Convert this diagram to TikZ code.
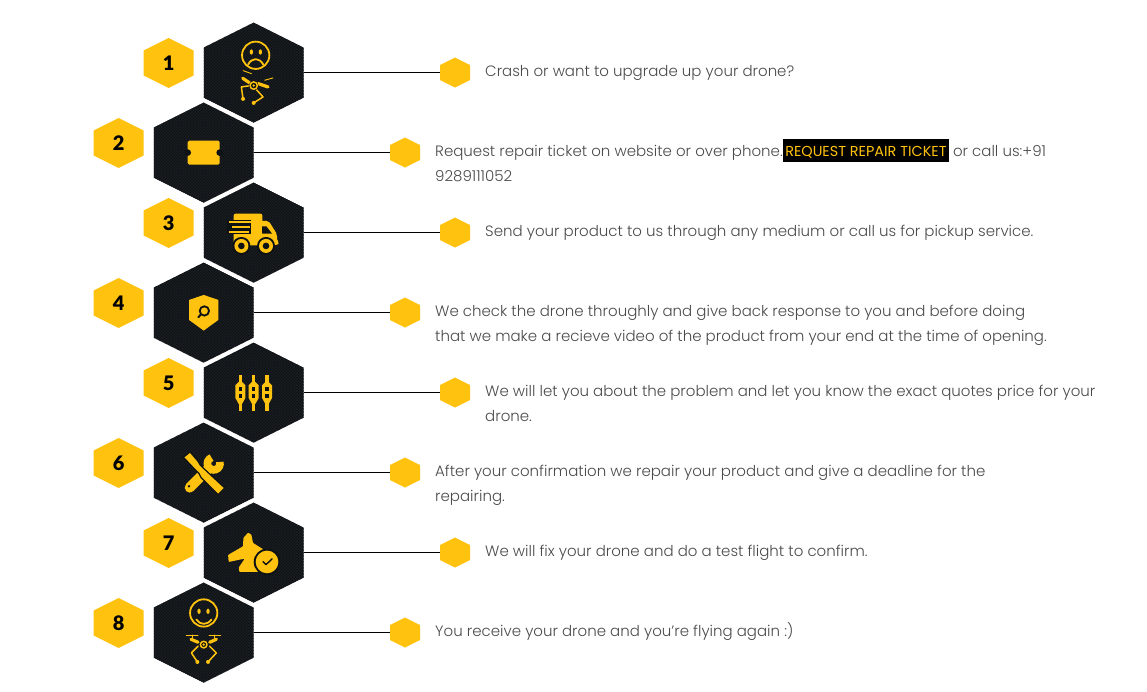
\documentclass[tikz,border=0pt]{standalone}
\usepackage{fontspec}
\setmainfont{Poppins Light}
\newfontfamily\numfont{Lato Black}
\newfontfamily\ticketfont{Poppins}
\usepackage{xcolor}
\usepackage{tikz}
\usetikzlibrary{
    patterns
}
\definecolor{hexgold}{HTML}{FFC30F}
\definecolor{hexdark}{HTML}{0F1215}
\definecolor{hexmesh}{HTML}{1B1F23}
\definecolor{bodygrey}{HTML}{4A4A4A}
\newcommand{\hexpath}[1]{(0,-#1) -- (#1,-#1/2) -- (#1,#1/2) -- (0,#1) -- (-#1,#1/2) -- (-#1,-#1/2) -- cycle}
\newcommand{\ticketbox}[1]{{\setlength{\fboxsep}{0pt}\colorbox{black}{\rule[-6pt]{0pt}{23pt}\,\ticketfont\fontsize{14.4}{14.4}\selectfont\textcolor{hexgold}{#1}\,}}}
\tikzset{
    bighex/.style={%
        minimum width=99.6pt, minimum height=100pt, inner sep=0pt,
        path picture={\fill[shift={(path picture bounding box.center)}, preaction={fill=hexdark},
            pattern=crosshatch, pattern color=hexmesh] \hexpath{50};}
    },
    numhex/.style={%
        minimum width=50pt, minimum height=50pt, inner sep=0pt,
        path picture={\fill[shift={(path picture bounding box.center)}, hexgold] \hexpath{25};}
    },
    numlabel/.style={text=black, inner sep=0pt, font=\numfont\fontsize{20}{20}\selectfont},
    tiphex/.style={%
        minimum width=30pt, minimum height=30pt, inner sep=0pt,
        path picture={\fill[shift={(path picture bounding box.center)}, hexgold] \hexpath{15};}
    },
    bodytext/.style={%
        anchor=north west, inner sep=0pt, align=left, text=bodygrey,
        font=\fontsize{15}{25}\selectfont,
        execute at begin node={\rule{0pt}{14pt}}
    },
    link/.style={draw=black, line width=0.9pt},
    iconunits/.style={x=.333pt, y=-.333pt},
    icongold/.style={fill=hexgold, draw=none},
    iconhole/.style={fill=hexdark, draw=none},
    iconface/.style={draw=hexgold, line width=1.8pt, line cap=round, line join=round},
    iconline/.style={draw=hexgold, line width=1.5pt, line cap=round, line join=round},
    iconthin/.style={draw=hexgold, line width=.9pt, line cap=round},
    iconthick/.style={draw=hexgold, line width=3.2pt, line cap=round, line join=round}
}
\begin{document}
\begin{tikzpicture}[x=1pt, y=-1pt]
    \useasboundingbox (0,0) rectangle (1147,691);

    \node[numhex, label={[numlabel]center:1}] (num1) at (168.7, 63) {};
    \node[numhex, label={[numlabel]center:2}] (num2) at (118.7,143) {};
    \node[numhex, label={[numlabel]center:3}] (num3) at (168.7,223) {};
    \node[numhex, label={[numlabel]center:4}] (num4) at (118.7,303) {};
    \node[numhex, label={[numlabel]center:5}] (num5) at (168.7,383) {};
    \node[numhex, label={[numlabel]center:6}] (num6) at (118.7,463) {};
    \node[numhex, label={[numlabel]center:7}] (num7) at (168.7,543) {};
    \node[numhex, label={[numlabel]center:8}] (num8) at (118.7,623) {};

    \node[bighex] (big1) at (253.7, 72.6) {};
    \node[bighex] (big2) at (203.7,152.6) {};
    \node[bighex] (big3) at (253.7,232.6) {};
    \node[bighex] (big4) at (203.7,312.6) {};
    \node[bighex] (big5) at (253.7,392.6) {};
    \node[bighex] (big6) at (203.7,472.6) {};
    \node[bighex] (big7) at (253.7,552.6) {};
    \node[bighex] (big8) at (203.7,632.6) {};

    \node[tiphex] (tip1) at (455, 72.6) {};
    \node[tiphex] (tip2) at (405,152.6) {};
    \node[tiphex] (tip3) at (455,232.6) {};
    \node[tiphex] (tip4) at (405,312.6) {};
    \node[tiphex] (tip5) at (455,392.6) {};
    \node[tiphex] (tip6) at (405,472.6) {};
    \node[tiphex] (tip7) at (455,552.6) {};
    \node[tiphex] (tip8) at (405,632.6) {};

    \foreach \i in {1,...,8}
        \draw[link] (big\i.east) -- (tip\i.west);

    \node[bodytext] (txt1) at (485, 62) {Crash or want to upgrade up your drone?};
    \node[bodytext] (txt2) at (435,139) {Request repair ticket on website or over phone.\ticketbox{REQUEST REPAIR TICKET} or call us:+91\\9289111052};
    \node[bodytext] (txt3) at (485,222) {Send your product to us through any medium or call us for pickup service.};
    \node[bodytext] (txt4) at (435,305) {We check the drone throughly and give back response to you and before doing\\that we make a recieve video of the product from your end at the time of opening.};
    \node[bodytext] (txt5) at (485,385) {We will let you about the problem and let you know the exact quotes price for your\\drone.};
    \node[bodytext] (txt6) at (435,465) {After your confirmation we repair your product and give a deadline for the\\repairing.};
    \node[bodytext] (txt7) at (485,542) {We will fix your drone and do a test flight to confirm.};
    \node[bodytext] (txt8) at (435,622) {You receive your drone and you're flying again :)};

    % sad face and tilted drone
    \begin{scope}[shift={(big1.center)}, iconunits]
        \draw[iconface] (6,-52) circle (41);
        \fill[icongold] (-7,-62) ellipse (5 and 8);
        \fill[icongold] (20,-62) ellipse (5 and 8);
        \draw[iconface] (-17,-24) .. controls (-5,-46) and (17,-46) .. (29,-24);
        \draw[iconthin] (-32,-6) -- (-7,3);
        \draw[iconthin] (33,23) -- (58,16);
        \draw[iconthick] (-33,17) -- (-12,31);
        \draw[iconthick] (13,33) -- (43,43);
        \draw[iconline] (-9,39) -- (-37,43) -- (-32,79);
        \draw[iconline] (8,51) -- (28,73) -- (0,91);
        \fill[icongold] (-32,79) circle (6);
        \fill[icongold] (0,91) circle (6);
        \fill[iconhole] (0,39) circle (15);
        \draw[iconline] (0,39) circle (11);
        \fill[icongold] (0,39) circle (4);
    \end{scope}

    % ticket
    \begin{scope}[shift={(big2.center)}, iconunits]
        \fill[icongold, rounded corners=1.5pt] (-48,-36) rectangle (48,36);
        \fill[iconhole] (-48,0) circle (10);
        \fill[iconhole] (48,0) circle (10);
    \end{scope}

    % truck
    \begin{scope}[shift={(big3.center)}, iconunits]
        \fill[icongold, rounded corners=2pt] (-60,-57) rectangle (26,38);
        \fill[icongold, rounded corners=2pt] (20,-35) -- (45,-35) -- (70,5) -- (70,25) -- (77,32) -- (70,38) -- (20,38) -- cycle;
        \fill[iconhole] (25,-19) -- (38,-19) -- (55,3) -- (25,3) -- cycle;
        \fill[iconhole] (-80,-39) rectangle (-7,5);
        \draw[line width=2pt, hexgold] (-75,-32) -- (-7,-32);
        \draw[line width=2pt, hexgold] (-65,-17) -- (-12,-17);
        \draw[line width=2pt, hexgold] (-75,-2) -- (-15,-2);
        \foreach \wx in {-37,37}{
            \fill[iconhole] (\wx,40) circle (27);
            \fill[icongold] (\wx,40) circle (21);
            \fill[iconhole] (\wx,40) circle (10);
        }
    \end{scope}

    % shield with lens
    \begin{scope}[shift={(big4.center)}, iconunits]
        \fill[icongold] (0,-53) -- (44,-38) -- (44,22) -- (0,54) -- (-44,22) -- (-44,-38) -- cycle;
        \draw[hexdark, line width=1.8pt] (2,-5) circle (14);
        \draw[hexdark, line width=2pt, line cap=round] (-9,6) -- (-16,14);
    \end{scope}

    % three sliders
    \begin{scope}[shift={(big5.center)}, iconunits]
        \foreach \sx in {-40,0,40}{
            \fill[icongold] (\sx-5,-54) rectangle (\sx+5,54);
            \fill[icongold] (\sx-15,-22) -- (\sx-5,-32) -- (\sx+5,-32) -- (\sx+15,-22) -- (\sx+15,16) -- (\sx+5,34) -- (\sx-5,34) -- (\sx-15,16) -- cycle;
            \fill[iconhole] (\sx-5,-16) rectangle (\sx+5,-6);
            \fill[iconhole] (\sx-5,5) rectangle (\sx+5,15);
        }
    \end{scope}

    % wrench and screwdriver
    \begin{scope}[shift={(big6.center)}, iconunits]
        \draw[hexgold, line width=10pt, line cap=round] (-42,45) -- (15,-12);
        \draw[hexgold, line width=7.6pt] (23.5,-44.9) arc[start angle=-110, end angle=-375, radius=19];
        \fill[iconhole] (-44,41) circle (4);
        \path[fill=hexgold, draw=hexdark, line width=1.2pt, line join=round] (-61,-46) -- (-41,-62) -- (-17,-34) -- (-10,-22) -- (8,-5) -- (63,46) -- (43,66) -- (-8,15) -- (-14,3) -- (-30,-13) -- (-38,-22) -- cycle;
    \end{scope}

    % plane with check mark
    \begin{scope}[shift={(big7.center)}, iconunits]
        \fill[icongold, rounded corners=.7pt] (-17,-60) -- (-7,-54) -- (-2,-29) -- (38,-4) -- (23,50) -- (15,58) -- (-43,58) -- (-45,45) -- (-27,18) -- (-75,28) -- (-77,7) -- (-32,-19) -- (-31,-44) -- cycle;
        \fill[iconhole] (40,28) circle (40);
        \fill[icongold] (40,28) circle (34);
        \draw[hexdark, line width=1.4pt, line cap=round, line join=round] (28,27) -- (37,36) -- (55,19);
    \end{scope}

    % happy face and level drone
    \begin{scope}[shift={(big8.center)}, iconunits]
        \draw[iconface] (0,-59) circle (41);
        \fill[icongold] (-14,-64) ellipse (5 and 8);
        \fill[icongold] (13,-64) ellipse (5 and 8);
        \draw[iconface] (-22,-39) .. controls (-10,-22) and (10,-22) .. (23,-39);
        \draw[iconthin] (-52,8) -- (-17,8);
        \draw[iconthin] (16,8) -- (51,8);
        \draw[iconline] (-34,8) -- (-34,16);
        \draw[iconline] (33,8) -- (33,16);
        \draw[iconthick] (-38,20) -- (-17,29);
        \draw[iconthick] (38,20) -- (18,29);
        \draw[iconline] (-17,41) -- (-37,61) -- (-19,88);
        \draw[iconline] (18,41) -- (38,61) -- (13,88);
        \fill[icongold] (-19,88) circle (6);
        \fill[icongold] (13,88) circle (6);
        \fill[iconhole] (0,36) circle (14);
        \draw[iconline] (0,36) circle (10);
        \fill[icongold] (0,36) circle (4);
    \end{scope}
\end{tikzpicture}
\end{document}
